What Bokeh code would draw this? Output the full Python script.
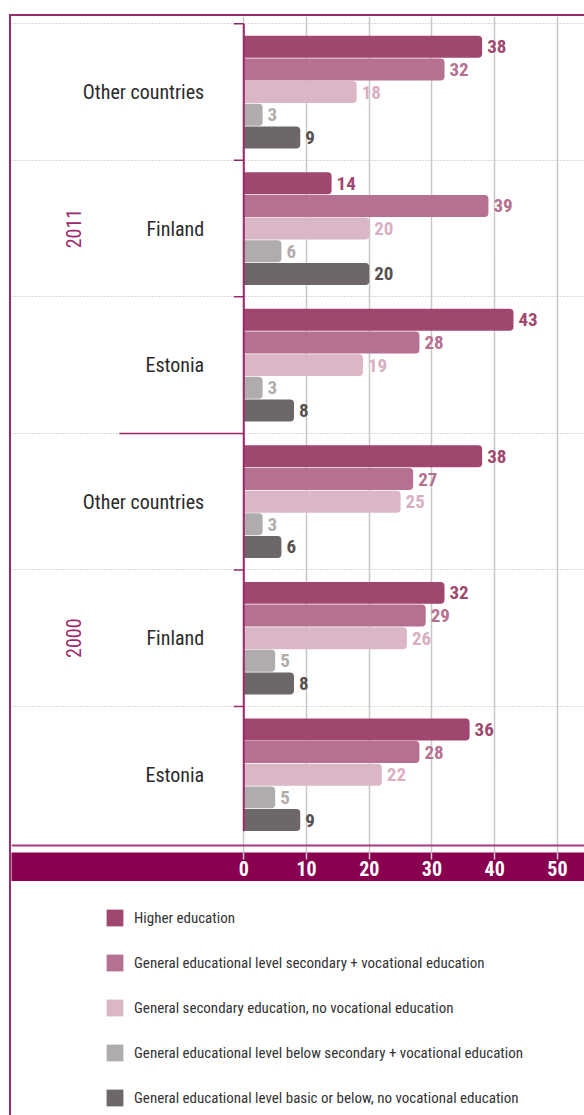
import math
from bokeh.plotting import figure
from bokeh.models import (Range1d, FixedTicker, Grid, Span, ColumnDataSource,
                          Legend, LegendItem)
from bokeh.layouts import column
from bokeh.core.properties import value
from bokeh.embed import file_html
from bokeh.resources import INLINE

# ---------------- data ----------------
years = ["2011", "2000"]
countries = ["Other countries", "Finland", "Estonia"]
series = [
    "Higher education",
    "General educational level secondary + vocational education",
    "General secondary education, no vocational education",
    "General educational level below secondary + vocational education",
    "General educational level basic or below, no vocational education",
]
# order of groups: 2011 Other, Finland, Estonia, 2000 Other, Finland, Estonia
higher    = [38, 14, 43, 38, 32, 36]
sec_voc   = [32, 39, 28, 27, 29, 28]
gen_sec   = [18, 20, 19, 25, 26, 22]
below_voc = [3, 6, 3, 3, 5, 5]
basic     = [9, 20, 8, 6, 8, 9]
x_ticks   = [0, 10, 20, 30, 40, 50]

values_by_series = [higher, sec_voc, gen_sec, below_voc, basic]

# ---------------- style ----------------
FONT = "Roboto Condensed"
bar_colors = ["#A0476F", "#B67091", "#DAB6C7", "#AFACAB", "#6E6767"]
lab_colors = ["#A0476F", "#B67091", "#D9AEC2", "#B0ADAC", "#575151"]
MAGENTA = "#9B2A6C"
BAND = "#8A0050"

# ---------------- layout constants (pixels) ----------------
FRAME_W = 573
FRAME_H = 834
X0_PX = 231.5       # position of x=0 from frame left
PX_PER_UNIT = 6.25
GROUP_PX = 136.2
Y0_PX = 7.3         # first group boundary from frame top

x_start = -X0_PX / PX_PER_UNIT
x_end = (FRAME_W - X0_PX) / PX_PER_UNIT
y_top = -Y0_PX / GROUP_PX
y_bottom = (FRAME_H - Y0_PX) / GROUP_PX
STEP = 22.6 / GROUP_PX
n_groups = len(years) * len(countries)
n_series = len(series)

p = figure(frame_width=FRAME_W, frame_height=FRAME_H,
           x_range=Range1d(x_start, x_end), y_range=Range1d(y_bottom, y_top),
           output_backend="svg", toolbar_location=None,
           min_border_left=0, min_border_right=0, min_border_top=0,
           min_border_bottom=0, y_axis_location=None,
           margin=(14, 0, 0, 9),
           styles={"border-left": f"2px solid {MAGENTA}",
                   "border-top": f"2px solid {MAGENTA}"})
p.outline_line_color = None
p.background_fill_color = "white"

# grids
p.xgrid.ticker = FixedTicker(ticks=x_ticks)
p.xgrid.grid_line_color = "#C8C8C8"
p.xgrid.grid_line_width = 1.5
p.ygrid.visible = False
ygrid = Grid(dimension=1, ticker=FixedTicker(ticks=[g for g in range(n_groups)]),
             grid_line_color="#B4B4B4", grid_line_dash="1 2", grid_line_width=1)
p.add_layout(ygrid)

# x axis as band
ax = p.xaxis[0]
ax.ticker = FixedTicker(ticks=x_ticks)
ax.axis_line_color = None
ax.background_fill_color = BAND
ax.major_tick_line_color = "#C8C8C8"
ax.major_tick_line_width = 1.5
ax.major_tick_out = 7
ax.major_tick_in = 0
ax.minor_tick_line_color = None
ax.major_label_text_color = "white"
ax.major_label_text_font = FONT
ax.major_label_text_font_style = "bold"
ax.major_label_text_font_size = "20px"
ax.major_label_standoff = 1
# small invisible spacer below the tick labels (keeps the band height)
ax.axis_label = " "
ax.axis_label_text_font_size = "2px"
ax.axis_label_standoff = 0

# bars
for s in range(n_series):
    ys = [g + 0.5 + (s - 2) * STEP for g in range(n_groups)]
    vals = values_by_series[s]
    src = ColumnDataSource(dict(y=ys, v=vals, t=[str(v) for v in vals]))
    p.hbar(y="y", left=0, right="v", height=STEP * 0.97, source=src,
           fill_color=bar_colors[s], line_color=None,
           border_radius=(0, 4, 4, 0))
    p.text(x="v", y="y", text="t", source=src, x_offset=5,
           text_align="left", text_baseline="middle",
           text_font=value(FONT), text_font_style="bold", text_font_size="19px",
           text_color=lab_colors[s])

# y axis line and ticks
last_bar_bottom = n_groups - (0.5 - 2.5 * STEP)
p.segment(x0=[0], y0=[0], x1=[0], y1=[last_bar_bottom],
          line_color=MAGENTA, line_width=2)
tick_len = 10 / PX_PER_UNIT
bounds = [g for g in range(n_groups) if g != len(countries)]
p.segment(x0=[-tick_len] * len(bounds), y0=bounds, x1=[0] * len(bounds), y1=bounds,
          line_color=MAGENTA, line_width=1.5)
sep_len = 124 / PX_PER_UNIT
p.segment(x0=[-sep_len], y0=[len(countries)], x1=[0], y1=[len(countries)],
          line_color=MAGENTA, line_width=1.5)

# x axis line
p.add_layout(Span(location=(843 - 23.3) / GROUP_PX, dimension="width",
                  line_color="#A8397A", line_width=2))

# country labels
lab_x = -39.5 / PX_PER_UNIT
p.text(x=[lab_x] * n_groups, y=[g + 0.5 for g in range(n_groups)],
       text=countries * len(years), text_align="right", text_baseline="middle",
       text_font=value(FONT), text_font_size="20px", text_color="#2B2B2B")
# year labels
yr_x = -169.5 / PX_PER_UNIT
p.text(x=[yr_x] * len(years),
       y=[(i + 0.5) * len(countries) for i in range(len(years))],
       text=years, angle=math.pi / 2, text_align="center", text_baseline="middle",
       text_font=value(FONT), text_font_size="20px", text_color=MAGENTA)

# ---------------- legend figure ----------------
LEG_H = 235
leg = figure(frame_width=FRAME_W, frame_height=LEG_H, output_backend="svg",
             toolbar_location=None, x_axis_location=None, y_axis_location=None,
             min_border_left=0, min_border_right=0, min_border_top=0,
             min_border_bottom=0, margin=(0, 0, 0, 9),
             styles={"border-left": f"2px solid {MAGENTA}"},
             x_range=Range1d(0, 1), y_range=Range1d(0, 1))
leg.outline_line_color = None
leg.grid.visible = False
items = []
for s in range(n_series):
    # off-screen dummy glyph so the legend has something to draw
    r = leg.quad(left=[5], right=[6], top=[5], bottom=[6], fill_color=bar_colors[s],
                 line_color=None)
    items.append(LegendItem(label=series[s], renderers=[r]))
legend = Legend(items=items, location=(93, 8), padding=0, margin=0,
                border_line_color=None, background_fill_alpha=0,
                glyph_width=21, glyph_height=21, label_height=21,
                label_standoff=9, spacing=24,
                label_text_font=FONT,
                label_text_font_size="15px", label_text_color="#333333")
leg.add_layout(legend, "center")

layout = column(p, leg, spacing=0)
open("out.html", "w").write(file_html(layout, INLINE))
